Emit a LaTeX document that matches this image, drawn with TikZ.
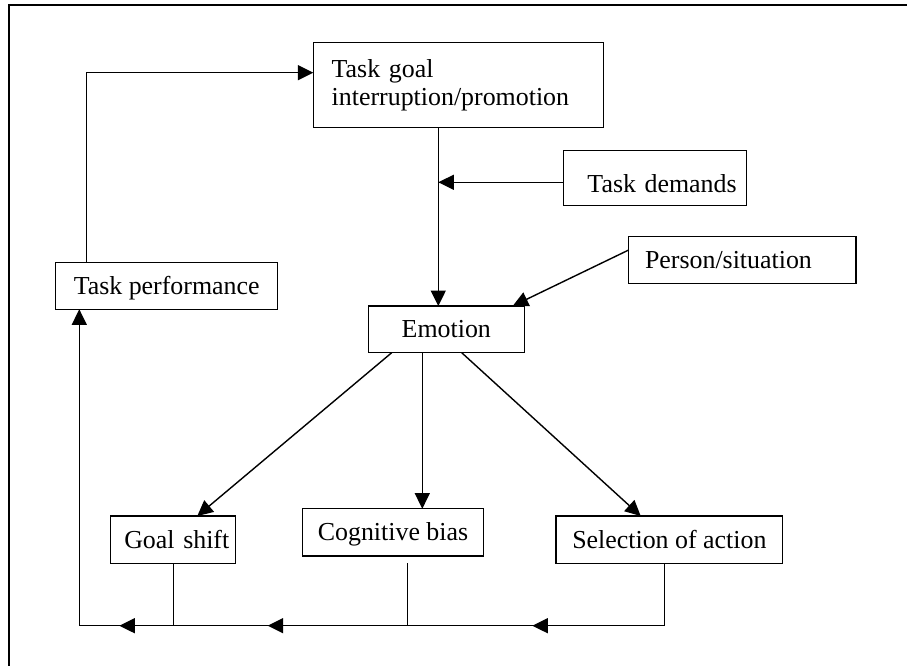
\documentclass[tikz,border=0pt]{standalone}
\usepackage{fontspec}
\setmainfont{Liberation Serif}
\usetikzlibrary{arrows.meta}
\newcommand{\diagfont}{\fontsize{25.9}{28.3}\selectfont}
\begin{document}
\begin{tikzpicture}[x=1pt,y=-1pt,
  box/.style={draw, line width=1.5pt, outer sep=0pt, inner ysep=0pt, inner xsep=0pt, anchor=north west, font=\diagfont},
  one/.style={text height=17pt, text depth=0pt},
  conn/.style={line width=1.4pt},
  arr/.style={line width=1.4pt, -{Triangle[length=15.5pt,width=15pt]}}]
\useasboundingbox (0,0) rectangle (907,666);
\draw[conn] (907,5) -- (9,5) -- (9,666);

\node[box, minimum width=290pt, minimum height=85.4pt, text width=253.2pt, inner xsep=18.4pt, align=left] (TG) at (313.3,42.3) {Task goal\\interruption/promotion};
\node[box, one, text height=28.2pt, minimum width=183.4pt, minimum height=55pt, text width=163.4pt, inner xsep=10pt, align=right] (TD) at (563.3,150.7) {Task demands};
\node[box, one, minimum width=227.3pt, minimum height=46.6pt, text width=194.7pt, inner xsep=16.3pt, align=left] (PS) at (628.7,236.7) {Person/situation};
\node[box, one, minimum width=156pt, minimum height=46.7pt] (EM) at (368.3,306) {Emotion};
\node[box, one, minimum width=222pt, minimum height=47pt] (TP) at (55.7,262.3) {Task performance};
\node[box, one, minimum width=125pt, minimum height=47.3pt, text width=112.2pt, inner xsep=6.4pt, align=right] (GS) at (110.7,516) {Goal shift};
\node[box, one, minimum width=180.6pt, minimum height=47.3pt] (CB) at (302.7,508.7) {Cognitive bias};
\node[box, one, minimum width=226.7pt, minimum height=47.3pt] (SA) at (556,516) {Selection of action};

\coordinate (v) at (438.3,0);
\coordinate (bl) at (79.3,625.7);
\coordinate (tdo) at ([yshift=-4.1pt]TD.west);
\coordinate (cbd) at ([xshift=104.6pt,yshift=-7.3pt]CB.south west);
\coordinate (sad) at ([xshift=108.7pt]SA.south west);
\coordinate (emc) at ([xshift=54pt]EM.south west);

\draw[arr] (TG.south -| v) -- (EM.north -| v);
\draw[arr] (tdo) -- (tdo -| v);
\draw[arr] ([yshift=-13.3pt]PS.north west) -- ([xshift=-11.6pt]EM.north east);
\draw[arr] ([xshift=23.4pt]EM.south west) -- ([xshift=86.6pt]GS.north west);
\draw[arr] (emc) -- (emc |- CB.north);
\draw[arr] ([xshift=93.4pt]EM.south west) -- ([xshift=84.7pt]SA.north west);
\draw[arr] ([xshift=31pt]TP.north west) |- ([yshift=12.3pt]TG.west);
\draw[arr] (sad) |- (bl) -- (bl |- TP.south);
\draw[conn] (GS.south) -- (GS.south |- bl);
\draw[conn] (cbd) -- (cbd |- bl);
\draw[arr] ([xshift=56pt]bl) -- ([xshift=40pt]bl);
\draw[arr] ([xshift=204.4pt]bl) -- ([xshift=188.4pt]bl);
\draw[arr] ([xshift=469pt]bl) -- ([xshift=453pt]bl);
\end{tikzpicture}
\end{document}
